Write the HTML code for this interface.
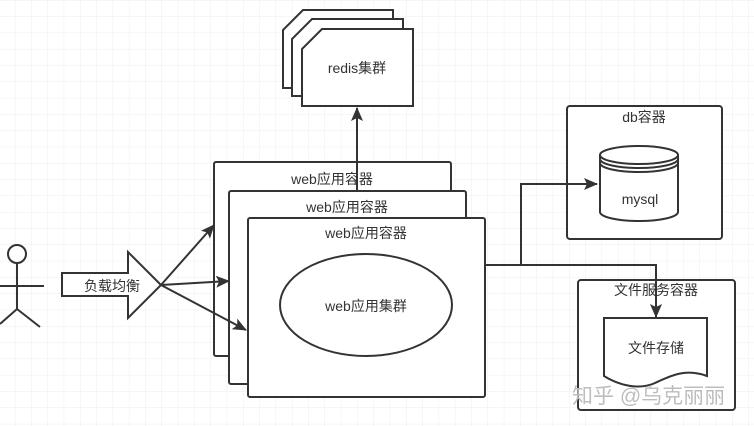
<!DOCTYPE html>
<html><head><meta charset="utf-8"><style>
html,body{margin:0;padding:0;background:#fff}
svg{display:block}
text{font-family:"Liberation Sans","Noto Sans CJK SC",sans-serif;fill:#333;font-size:14px}
</style></head><body>
<svg width="754" height="426" viewBox="0 0 754 426" xmlns="http://www.w3.org/2000/svg">
<defs>
<pattern id="g" width="16.3" height="16.3" patternUnits="userSpaceOnUse" x="-1" y="0.5">
<path d="M16.3 0V16.3M0 16.3H16.3" stroke="#eeeeee" stroke-width="1" fill="none"/>
</pattern>
<marker id="a" markerWidth="14" markerHeight="12" refX="13" refY="6" orient="auto" markerUnits="userSpaceOnUse"><path d="M0,0 L14,6 L0,12 L3,6z" fill="#333"/></marker>
</defs>
<rect width="754" height="426" fill="#fff"/>
<rect width="754" height="426" fill="url(#g)"/>
<g stroke="#333" stroke-width="2" fill="#fff">
<path d="M303,10 H393 V88 H283 V30 Z"/>
<path d="M312,19 H403 V96 H292 V39 Z"/>
<path d="M322,29 H413 V106 H302 V49 Z"/>
<rect x="214" y="162" width="237" height="194" rx="2"/>
<rect x="229" y="191" width="237" height="193" rx="2"/>
<rect x="248" y="218" width="237" height="179" rx="2"/>
<ellipse cx="366" cy="305" rx="86" ry="51"/>
<circle cx="17" cy="254" r="9"/>
<path d="M17,263 V309 M0,286 H44 M0,324 L17,309 L40,327" fill="none"/>
<path d="M62,273 H128 V252 L161,285 L128,318 V296 H62 Z"/>
<rect x="567" y="106" width="155" height="133" rx="3"/>
<path d="M600,155 V212 A39,9 0 0 0 678,212 V155"/>
<ellipse cx="639" cy="155" rx="39" ry="9"/>
<path d="M600,159 A39,9 0 0 0 678,159 M600,163 A39,9 0 0 0 678,163" fill="none"/>
<rect x="578" y="280" width="157" height="130" rx="3"/>
<path d="M604,318 H707 V376 C685,368 670,376 655,383 C640,390 620,386 604,376 Z"/>
</g>
<g stroke="#333" stroke-width="2" fill="none">
<path d="M357,190 V108" marker-end="url(#a)"/>
<path d="M161,285 L214,225" marker-end="url(#a)"/>
<path d="M161,285 L229,281" marker-end="url(#a)"/>
<path d="M161,285 L246,330" marker-end="url(#a)"/>
<path d="M485,265 H656 V317" marker-end="url(#a)"/>
<path d="M521,265 V184 H597" marker-end="url(#a)"/>
</g>
<text x="357" y="73" text-anchor="middle">redis集群</text>
<text x="332" y="184" text-anchor="middle">web应用容器</text>
<text x="347" y="212" text-anchor="middle">web应用容器</text>
<text x="366" y="238" text-anchor="middle">web应用容器</text>
<text x="366" y="311" text-anchor="middle">web应用集群</text>
<text x="112" y="291" text-anchor="middle">负载均衡</text>
<text x="644" y="122" text-anchor="middle">db容器</text>
<text x="640" y="204" text-anchor="middle">mysql</text>
<text x="656" y="295" text-anchor="middle">文件服务容器</text>
<text x="656" y="353" text-anchor="middle">文件存储</text>
<text x="572" y="403" style="font-size:21px;fill:#bdbdbd">知乎 @乌克丽丽</text>
</svg>
</body></html>
